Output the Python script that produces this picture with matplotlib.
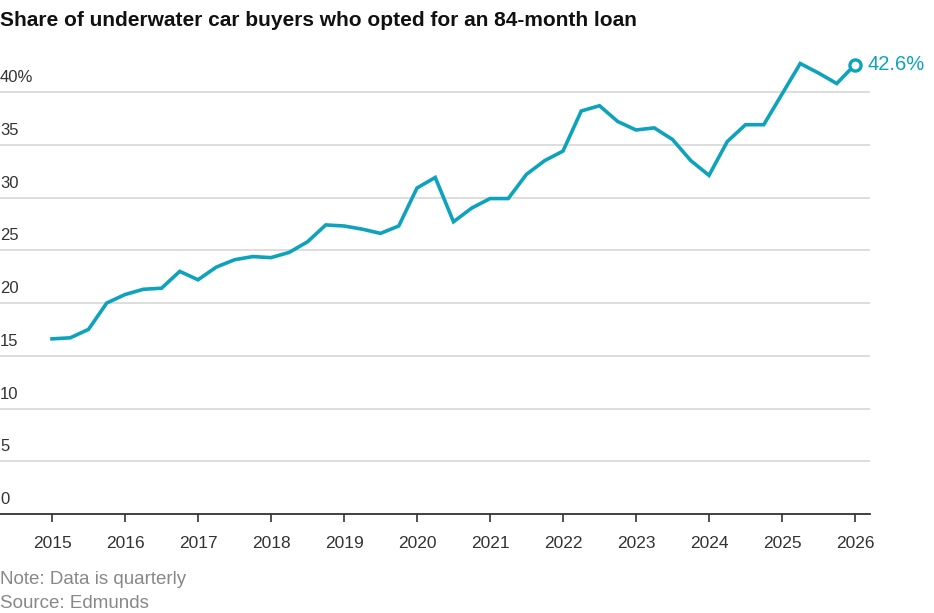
import matplotlib
matplotlib.use("Agg")
import matplotlib.pyplot as plt
import numpy as np

# ---- data ----
start_year = 2015
values = [16.6, 16.7, 17.5, 20.0, 20.8, 21.3, 21.4, 23.0,   # 2015-2016
          22.2, 23.4, 24.1, 24.4, 24.3, 24.8, 25.8, 27.4,   # 2017-2018
          27.3, 27.0, 26.6, 27.3, 30.9, 31.9, 27.7, 29.0,   # 2019-2020
          29.9, 29.9, 32.2, 33.5, 34.4, 38.2, 38.7, 37.2,   # 2021-2022
          36.4, 36.6, 35.5, 33.5, 32.1, 35.3, 36.9, 36.9,   # 2023-2024
          39.8, 42.7, 41.8, 40.8, 42.6]                     # 2025-2026
years = list(range(2015, 2027))
yticks = [0, 5, 10, 15, 20, 25, 30, 35, 40]
ytick_labels = ["0", "5", "10", "15", "20", "25", "30", "35", "40%"]
title = "Share of underwater car buyers who opted for an 84-month loan"
note = "Note: Data is quarterly"
source = "Source: Edmunds"

x = start_year + np.arange(len(values)) * 0.25

plt.rcParams["font.family"] = ["Liberation Sans", "DejaVu Sans"]

W, H = 934, 613
fig = plt.figure(figsize=(W / 100, H / 100), dpi=100)
ax_left, ax_right = 0 / W, 870 / W
ax_bottom = 1 - 514 / H
ax_top = 1 - 45 / H
ax = fig.add_axes([ax_left, ax_bottom, ax_right - ax_left, ax_top - ax_bottom])

color = "#0ea3bd"
ax.plot(x, values, color=color, lw=2.6, solid_joinstyle="miter", zorder=3)
ax.plot(x[-1], values[-1], marker="o", ms=8, mfc="white", mec=color, mew=2.4, zorder=4)
ax.annotate(f"{values[-1]}%", (x[-1], values[-1]), xytext=(9, 0), textcoords="offset points",
            color=color, fontsize=14.5, va="center", ha="left", annotation_clip=False)

# x scale: 2015 at px 52, 2026 at px 855
px_per_year = (855 - 52) / 11
ax.set_xlim(2015 - 52 / px_per_year, 2026 + (870 - 855) / px_per_year)
ax.set_ylim(0, (514 - 45) / ((514 - 92) / 40))

for s in ["top", "right", "left"]:
    ax.spines[s].set_visible(False)
ax.spines["bottom"].set_color("#333333")
ax.spines["bottom"].set_linewidth(1.3)

ax.set_yticks(yticks)
ax.set_yticklabels([])
ax.tick_params(axis="y", length=0)
for v in yticks:
    if v > 0:
        ax.axhline(v, color="#dddddd", lw=1.4, zorder=1)
for v, lab in zip(yticks, ytick_labels):
    ax.text(0, v + 0.65, lab, transform=ax.get_yaxis_transform(), ha="left", va="bottom",
            fontsize=12, color="#333333")

ax.set_xticks(years)
ax.set_xticklabels([str(y) for y in years], fontsize=12.5, color="#333333")
ax.tick_params(axis="x", length=6, width=1.2, color="#333333", pad=10)

fig.text(0 / W, 1 - 21 / H, title, fontsize=15, fontweight="bold", color="#111111",
         ha="left", va="center")
fig.text(0 / W, 1 - 579 / H, note, fontsize=13.5, color="#888888", ha="left", va="center")
fig.text(0 / W, 1 - 604 / H, source, fontsize=13.5, color="#888888", ha="left", va="center")

fig.savefig("out.png", dpi=100)
